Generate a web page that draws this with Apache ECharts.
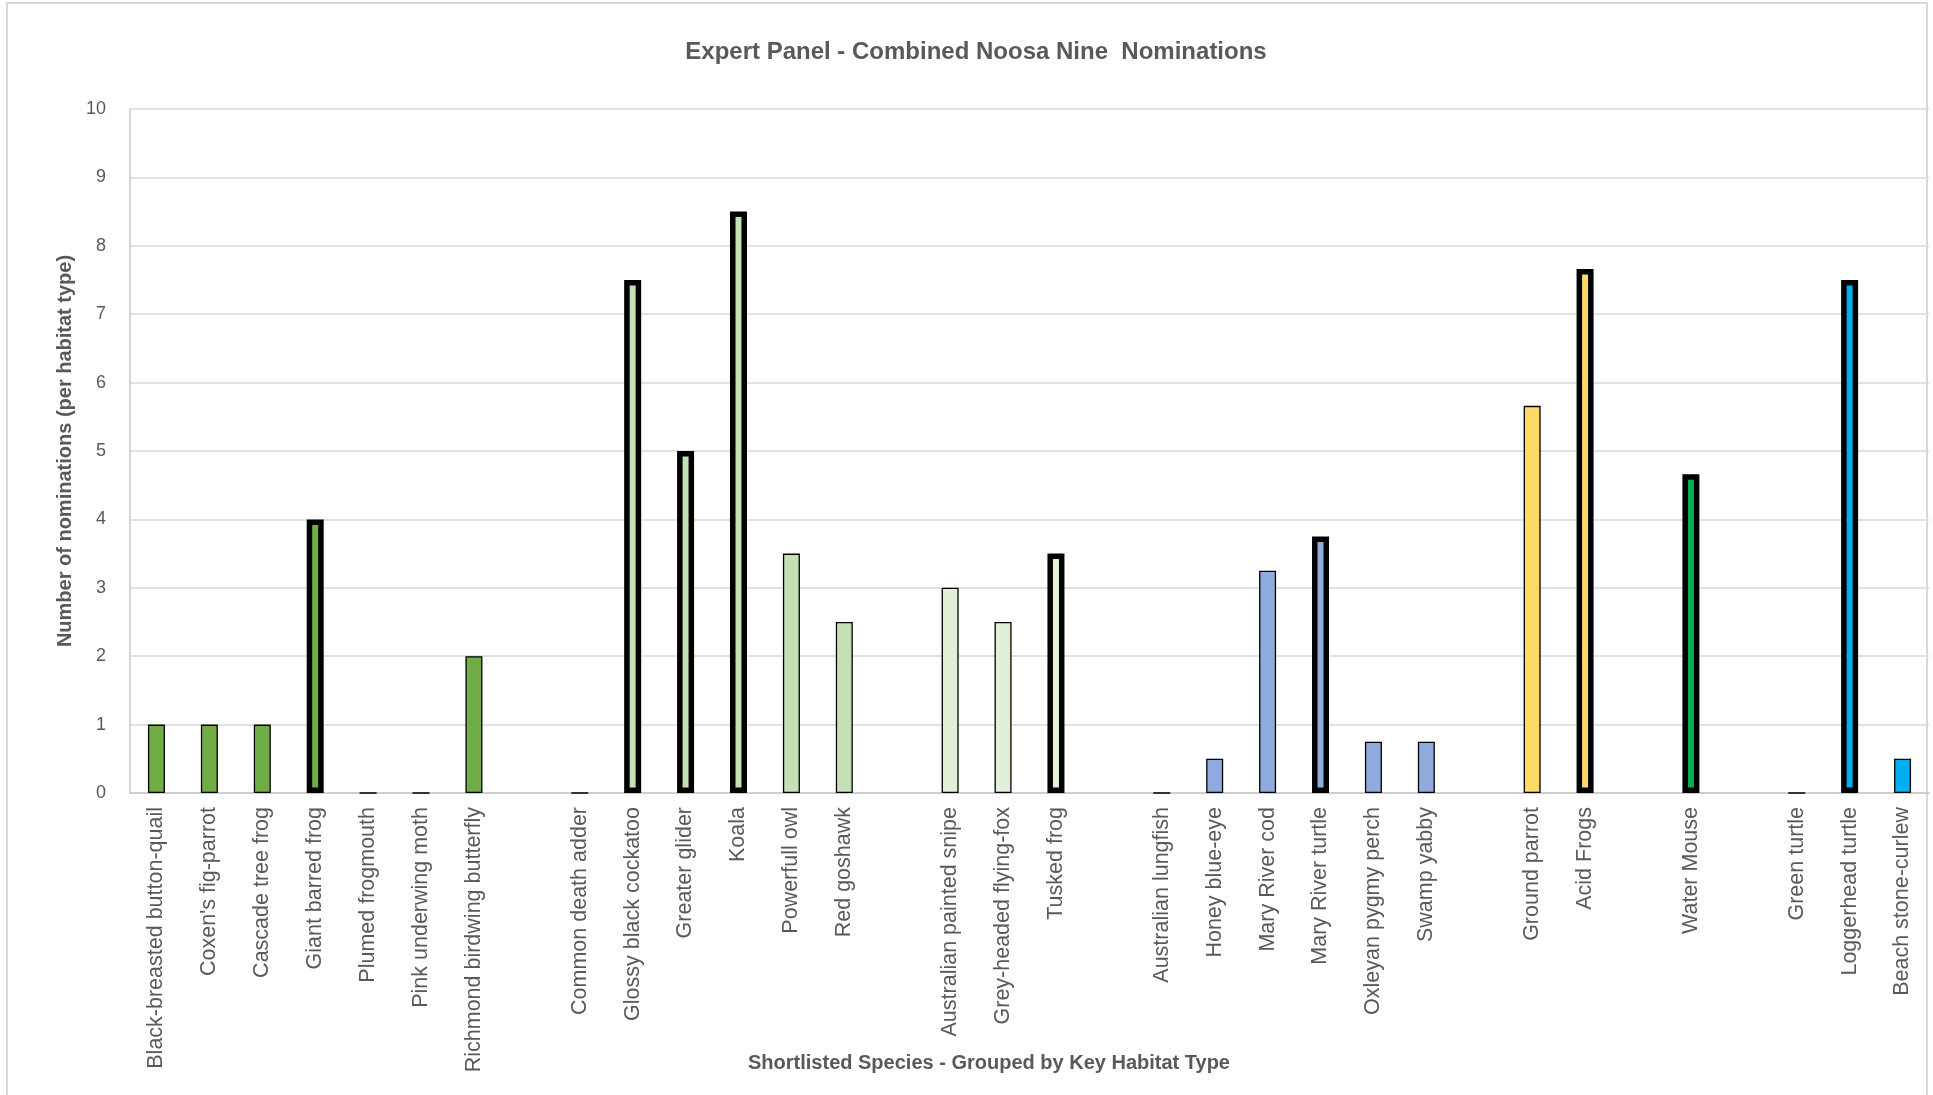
<!DOCTYPE html>
<html>
<head>
<meta charset="utf-8">
<script src="https://cdn.jsdelivr.net/npm/echarts@6/dist/echarts.min.js"></script>
<style>
  html, body { margin: 0; padding: 0; background: #ffffff; }
  #frame { position: absolute; left: 6px; top: 2px; width: 1922px; height: 1100px; border: 2px solid #d9d9d9; box-sizing: border-box; }
  #chart { position: absolute; left: 0; top: 0; width: 1933px; height: 1095px; }
</style>
</head>
<body>
<div id="frame"></div>
<div id="chart"></div>
<script>
// ---- Data ----
const group1Species = ['Black-breasted button-quail', "Coxen's fig-parrot", 'Cascade tree frog', 'Giant barred frog', 'Plumed frogmouth', 'Pink underwing moth', 'Richmond birdwing butterfly'];
const group1Values  = [1, 1, 1, 4, 0, 0, 2];

const group2Species = ['Common death adder', 'Glossy black cockatoo', 'Greater glider', 'Koala', 'Powerfull owl', 'Red goshawk'];
const group2Values  = [0, 7.5, 5, 8.5, 3.5, 2.5];

const group3Species = ['Australian painted snipe', 'Grey-headed flying-fox', 'Tusked frog'];
const group3Values  = [3, 2.5, 3.5];

const group4Species = ['Australian lungfish', 'Honey blue-eye', 'Mary River cod', 'Mary River turtle', 'Oxleyan pygmy perch', 'Swamp yabby'];
const group4Values  = [0, 0.5, 3.25, 3.75, 0.75, 0.75];

const group5Species = ['Ground parrot', 'Acid Frogs'];
const group5Values  = [5.66, 7.66];

const group6Species = ['Water Mouse'];
const group6Values  = [4.66];

const group7Species = ['Green turtle', 'Loggerhead turtle', 'Beach stone-curlew'];
const group7Values  = [0, 7.5, 0.5];

// The nine final nominations (drawn with heavy outline)
const noosaNine = ['Giant barred frog', 'Glossy black cockatoo', 'Greater glider', 'Koala', 'Tusked frog', 'Mary River turtle', 'Acid Frogs', 'Water Mouse', 'Loggerhead turtle'];

const yTicks = [0, 1, 2, 3, 4, 5, 6, 7, 8, 9, 10];

// ---- Styles ----
const groupColors = ['#70AD47', '#C5E0B4', '#E2F0D9', '#8FAADC', '#FFD966', '#00B050', '#00B0F0'];

// ---- Build category axis with blank slots between habitat groups ----
const groupsSpecies = [group1Species, group2Species, group3Species, group4Species, group5Species, group6Species, group7Species];
const groupsValues  = [group1Values, group2Values, group3Values, group4Values, group5Values, group6Values, group7Values];

const categories = [];
const barData = [];
groupsSpecies.forEach(function (sp, gi) {
  if (gi > 0) {
    categories.push(' '.repeat(gi));
    barData.push('-');
  }
  sp.forEach(function (name, i) {
    categories.push(name);
    const bold = noosaNine.indexOf(name) >= 0;
    barData.push({
      value: groupsValues[gi][i],
      itemStyle: {
        color: groupColors[gi],
        borderColor: '#000000',
        borderWidth: bold ? 5.5 : 1.3
      }
    });
  });
});

const textColor = '#595959';
const chart = echarts.init(document.getElementById('chart'), null, { renderer: 'canvas' });

chart.setOption({
  animation: false,
  backgroundColor: 'transparent',
  title: [
    {
      text: 'Expert Panel - Combined Noosa Nine  Nominations',
      left: 971, top: 35, textAlign: 'center',
      textStyle: { fontFamily: 'Liberation Sans', fontWeight: 'bold', fontSize: 24, color: textColor }
    },
    {
      text: 'Shortlisted Species - Grouped by Key Habitat Type',
      left: 984, top: 1048, textAlign: 'center',
      textStyle: { fontFamily: 'Liberation Sans', fontWeight: 'bold', fontSize: 20, color: textColor }
    }
  ],
  grid: { left: 130, right: 4, top: 109, bottom: 302, containLabel: false, outerBoundsMode: 'none' },
  xAxis: {
    type: 'category',
    data: categories,
    boundaryGap: true,
    axisLine: { show: true, lineStyle: { color: '#c8c8c8', width: 1.5 } },
    axisTick: { show: false },
    axisLabel: {
      interval: 0, rotate: 90, margin: 14,
      fontFamily: 'Liberation Sans', fontSize: 21.5, color: textColor
    },
    splitLine: { show: false }
  },
  yAxis: {
    type: 'value',
    min: yTicks[0], max: yTicks[yTicks.length - 1], interval: 1,
    name: 'Number of nominations (per habitat type)',
    nameLocation: 'middle', nameGap: 55,
    nameTextStyle: { fontFamily: 'Liberation Sans', fontWeight: 'bold', fontSize: 20, color: textColor },
    axisLine: { show: true, lineStyle: { color: '#c8c8c8', width: 1.5 } },
    axisTick: { show: false },
    axisLabel: { margin: 24, fontFamily: 'Liberation Sans', fontSize: 18, color: textColor },
    splitLine: { show: true, lineStyle: { color: '#d9d9d9', width: 1.5 } }
  },
  series: [{
    type: 'bar',
    data: barData,
    barWidth: 17,
    itemStyle: { borderColor: '#000' }
  }]
});
</script>
</body>
</html>
